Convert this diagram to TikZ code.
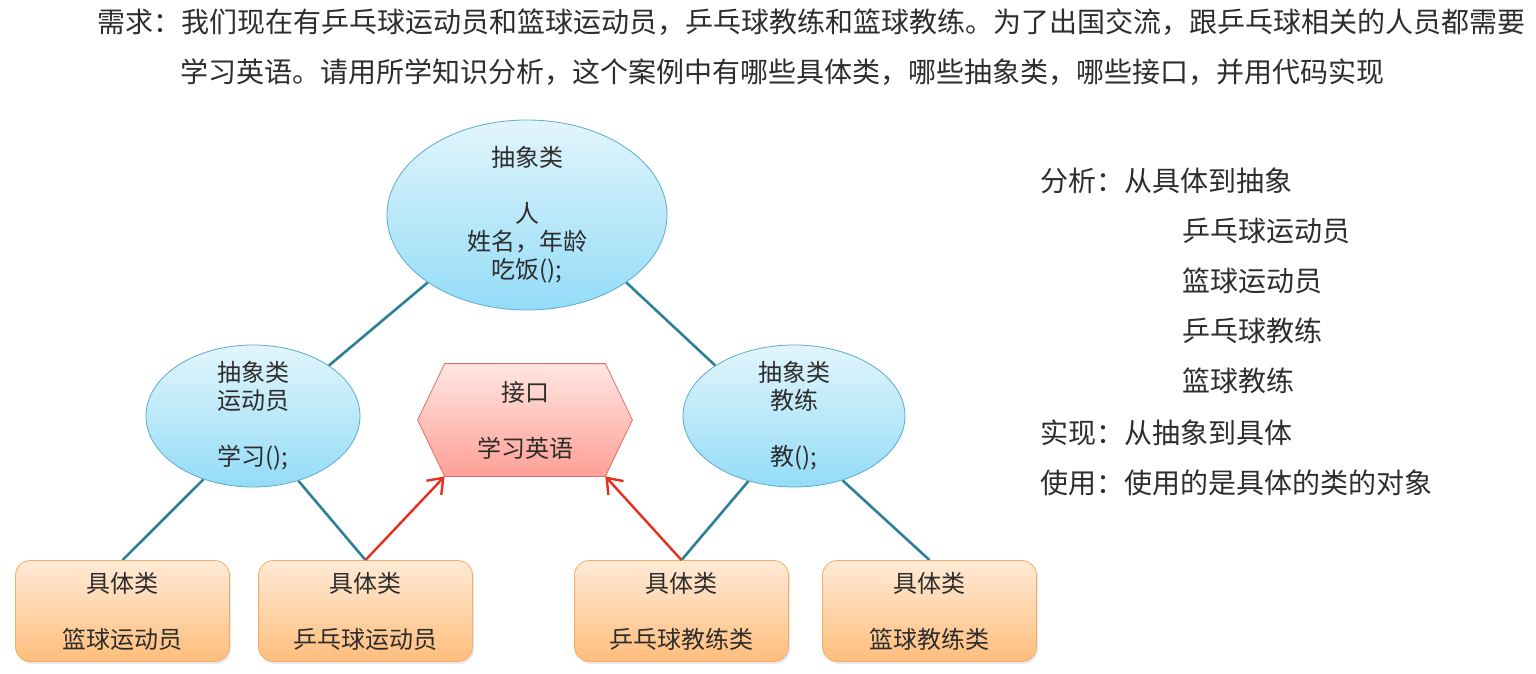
\documentclass[tikz,border=0pt]{standalone}
\usepackage{fontspec}
\setmainfont{Noto Sans CJK SC}
\usetikzlibrary{arrows.meta,positioning,shapes.geometric,shadows,backgrounds}
\definecolor{ellhi}{RGB}{226,245,252}
\definecolor{elllo}{RGB}{148,220,247}
\definecolor{elledge}{RGB}{92,170,204}
\definecolor{boxhi}{RGB}{255,234,214}
\definecolor{boxlo}{RGB}{255,190,124}
\definecolor{boxedge}{RGB}{243,172,104}
\definecolor{hexhi}{RGB}{255,230,226}
\definecolor{hexlo}{RGB}{255,160,150}
\definecolor{hexedge}{RGB}{222,112,104}
\definecolor{lnkteal}{RGB}{46,128,152}
\definecolor{implred}{RGB}{232,46,30}
\definecolor{txtgray}{RGB}{45,45,45}
\tikzset{
  nfont/.style={font=\fontsize{12}{14}\selectfont, text=txtgray, align=center},
  absc/.style={ellipse, nfont, draw=elledge, thin, top color=ellhi, bottom color=elllo,
      inner xsep=0pt, inner ysep=-3pt},
  conc/.style={rectangle, nfont, rounded corners=7.5pt, draw=boxedge, thin,
      top color=boxhi, bottom color=boxlo, minimum width=107pt, minimum height=50.5pt,
      drop shadow={opacity=0.18, shadow xshift=0.8pt, shadow yshift=-1.2pt}},
  ifc/.style={nfont, minimum width=107pt, minimum height=56pt, inner sep=0pt},
  ifcshape/.style={draw=hexedge, thin, top color=hexhi, bottom color=hexlo},
  lnk/.style={lnkteal, line width=1.3pt},
  impl/.style={-{Straight Barb[length=2.4mm, width=3.6mm]}, implred, line width=1.2pt},
  ttl/.style={font=\fontsize{14}{16}\selectfont, text=txtgray, anchor=west, inner sep=0pt},
}

\begin{document}
\begin{tikzpicture}[x=0.5pt, y=-0.5pt]
  \useasboundingbox (0,0) rectangle (1536,674);

  % task text
  \node[ttl] (task1) at (97,22) {需求：我们现在有乒乓球运动员和篮球运动员，乒乓球教练和篮球教练。为了出国交流，跟乒乓球相关的人员都需要};
  \node[ttl] (task2) at (180,72) {学习英语。请用所学知识分析，这个案例中有哪些具体类，哪些抽象类，哪些接口，并用代码实现};

  % abstract classes
  \node[absc, minimum width=140pt, minimum height=95pt] (person) at (527,215)
    {抽象类\\[14pt]人\\姓名，年龄\\吃饭();};
  \node[absc, minimum width=107pt, minimum height=71pt] (athlete) at (253,416)
    {抽象类\\运动员\\[14pt]学习();};
  \node[absc, minimum width=111pt, minimum height=71pt] (coach) at (794,416)
    {抽象类\\教练\\[14pt]教();};

  % interface
  \node[ifc] (english) at (525,420) {接口\\[14pt]学习英语};
  \coordinate (engSW) at ([xshift=13.5pt]english.south west);
  \coordinate (engSE) at ([xshift=-13.5pt]english.south east);

  % concrete classes
  \node[conc] (bbPlayer) at (122.5,611) {具体类\\[14pt]篮球运动员};
  \node[conc] (ppPlayer) at (365.5,611) {具体类\\[14pt]乒乓球运动员};
  \node[conc] (ppCoach) at (681.5,611) {具体类\\[14pt]乒乓球教练类};
  \node[conc] (bbCoach) at (929.5,611) {具体类\\[14pt]篮球教练类};

  \begin{pgfonlayer}{background}
    \path[ifcshape] ([xshift=13.5pt]english.north west) -- ([xshift=-13.5pt]english.north east)
      -- (english.east) -- (engSE) -- (engSW) -- (english.west) -- cycle;
    \draw[lnk] (person.south west) -- (athlete.north east);
    \draw[lnk] (person.south east) -- (coach.north west);
    \draw[lnk] (bbPlayer.north) -- (athlete.232);
    \draw[lnk] (ppPlayer.north) -- (athlete.305);
    \draw[lnk] (ppCoach.north) -- (coach.235);
    \draw[lnk] (bbCoach.north) -- (coach.307);
  \end{pgfonlayer}

  % implements
  \draw[impl] (ppPlayer.north) -- (engSW);
  \draw[impl] (ppCoach.north) -- (engSE);

  % analysis
  \node[ttl] (ana) at (1040,181) {分析：从具体到抽象};
  \foreach \name [count=\i] in {乒乓球运动员,篮球运动员,乒乓球教练,篮球教练}
    \node[ttl] (item\i) at (1182,181+50*\i) {\name};
  \node[ttl] (impl) at (1040,433) {实现：从抽象到具体};
  \node[ttl] (use) at (1040,483) {使用：使用的是具体的类的对象};
\end{tikzpicture}
\end{document}
